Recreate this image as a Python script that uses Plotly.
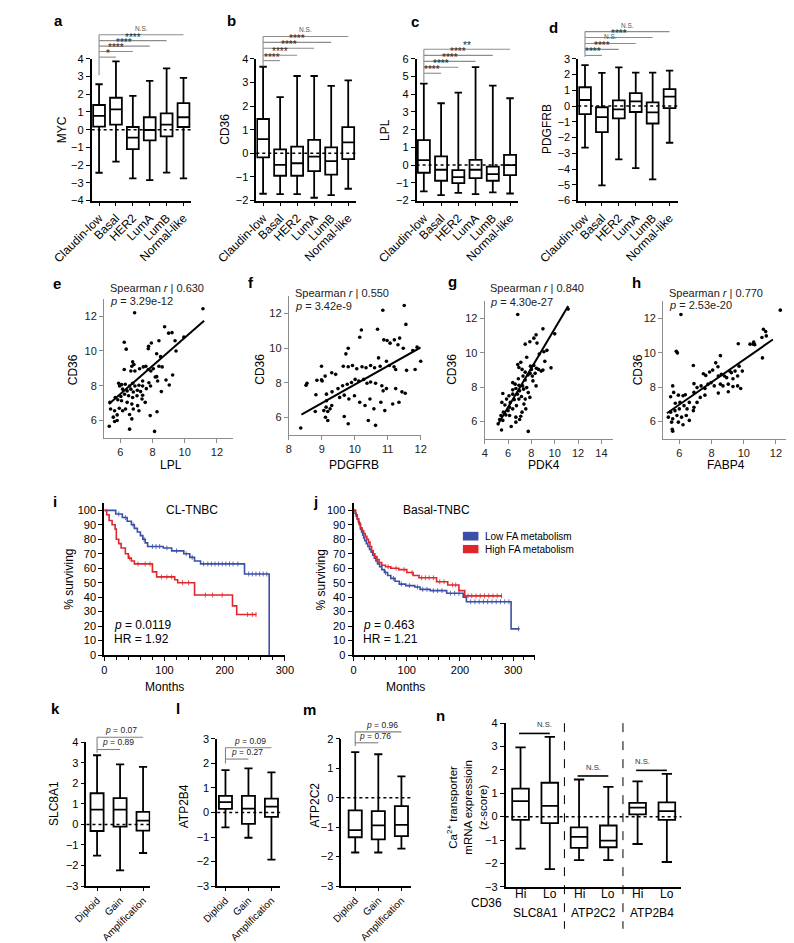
import numpy as np
import plotly.graph_objects as go

W, H = 794, 943
FONT = "Liberation Sans, Arial, Helvetica, sans-serif"

# ======================= DATA =======================
subtypes = ['Claudin-low', 'Basal', 'HER2', 'LumA', 'LumB', 'Normal-like']

# panel a: MYC
myc_hi = [2.56, 3.85, 1.9, 2.75, 3.45, 2.92]
myc_q3 = [1.39, 1.8, 0.15, 0.7, 0.92, 1.5]
myc_med = [0.78, 1.14, -0.45, -0.02, 0.28, 0.7]
myc_q1 = [0.17, 0.28, -1.1, -0.6, -0.38, 0.15]
myc_lo = [-2.43, -1.8, -2.75, -2.85, -2.42, -2.75]
myc_sig = ['*', '****', '****', '****', 'N.S.']

# panel b: CD36
cd36_hi = [3.66, 2.38, 3.27, 3.27, 2.85, 3.08]
cd36_q3 = [1.45, 0.17, 0.28, 0.57, 0.25, 1.11]
cd36_med = [0.6, -0.49, -0.42, -0.14, -0.33, 0.46]
cd36_q1 = [-0.17, -0.95, -0.95, -0.75, -0.9, -0.25]
cd36_lo = [-1.71, -1.73, -1.73, -1.88, -1.77, -1.5]
cd36_sig = ['****', '****', '****', '****', 'N.S.']

# panel c: LPL
lpl_hi = [4.6, 3.49, 4.09, 5.53, 4.48, 3.77]
lpl_q3 = [1.41, 0.49, -0.28, 0.3, -0.08, 0.58]
lpl_med = [0.28, -0.26, -0.68, -0.26, -0.51, 0.0]
lpl_q1 = [-0.43, -0.88, -1.01, -0.73, -0.88, -0.56]
lpl_lo = [-1.48, -1.69, -1.56, -1.63, -1.54, -1.6]
lpl_sig = ['****', '****', '****', '****', '**']

# panel d: PDGFRB
pdgfrb_hi = [2.6, 2.1, 2.45, 2.12, 2.12, 2.24]
pdgfrb_q3 = [1.19, -0.08, 0.36, 0.82, 0.23, 1.07]
pdgfrb_med = [0.38, -0.71, -0.21, 0.29, -0.4, 0.59]
pdgfrb_q1 = [-0.52, -1.66, -0.78, -0.38, -1.11, -0.13]
pdgfrb_lo = [-2.64, -5.03, -3.38, -3.94, -4.65, -2.33]
pdgfrb_sig = ['****', '****', 'N.S.', '****', 'N.S.']

# panel e: LPL vs CD36
e_x = [11.13, 6.89, 9.95, 8.75, 9.21, 9.0, 9.4, 8.4, 7.76, 7.74, 7.93, 6.25, 6.37, 9.46, 8.5, 8.26,
       6.77, 6.85, 6.72, 6.25, 6.66, 6.91, 7.2, 7.43, 7.59, 7.74, 7.9, 8.05, 8.4, 8.6, 8.17, 8.26,
       8.84, 9.04, 7.78, 7.39, 7.16, 6.91, 6.77, 6.58, 6.31, 6.08, 5.9, 5.96, 6.15, 6.43, 6.66, 6.81,
       7.06, 7.26, 7.39, 7.04, 6.77, 6.52, 6.27, 6.04, 5.85, 5.69, 6.08, 6.43, 6.72, 7.08, 6.81, 6.33,
       5.94, 5.65, 5.36, 5.4, 5.81, 5.57, 5.65, 5.81, 5.32, 6.58, 6.72, 6.58, 8.13, 8.28, 7.86, 8.55,
       7.39, 7.62, 7.88, 7.55, 7.35, 7.16, 6.15, 8.32, 9.25]
e_y = [12.42, 12.19, 10.79, 11.39, 11.05, 11.02, 10.58, 10.58, 10.26, 10.12, 10.45, 10.5, 10.1, 9.99, 9.67, 9.84,
       9.37, 9.22, 9.12, 8.93, 8.84, 8.84, 8.97, 9.08, 9.12, 8.93, 8.84, 8.97, 9.12, 9.08, 8.5, 8.52,
       8.33, 8.04, 8.17, 8.27, 8.02, 7.98, 8.14, 7.98, 8.08, 8.06, 8.14, 7.98, 7.8, 7.7, 7.8, 7.64,
       7.74, 7.66, 7.45, 7.42, 7.32, 7.42, 7.51, 7.38, 7.19, 7.32, 7.13, 7.04, 6.94, 6.85, 6.66, 6.66,
       6.7, 6.56, 7.04, 6.66, 6.32, 6.19, 5.94, 6.0, 5.67, 6.34, 6.09, 5.5, 5.37, 6.5, 6.28, 7.66,
       7.98, 7.83, 7.98, 7.04, 7.23, 6.56, 6.56, 8.27, 8.61]
e_fit = [0.81, 2.66]          # slope, intercept
e_fit_x = [5.3, 11.2]

# panel f: PDGFRB vs CD36
f_x = [11.5, 10.85, 11.55, 10.69, 10.2, 11.36, 11.2, 11.07, 11.31, 11.47, 11.76, 11.89, 12.0, 10.88, 10.98,
       10.15, 9.8, 9.73, 10.72, 10.96, 11.05, 11.19, 11.24, 11.57, 10.77, 10.6, 10.48, 10.34, 10.22, 10.06,
       9.93, 9.8, 9.65, 9.42, 9.3, 8.99, 9.1, 8.85, 8.99, 8.55, 8.82, 9.14, 9.31, 9.49, 9.63, 9.77, 9.9,
       10.01, 10.12, 10.27, 10.37, 10.48, 10.63, 10.82, 10.96, 10.86, 11.24, 11.43, 11.83, 9.54, 9.68,
       9.82, 9.99, 10.15, 10.31, 10.46, 10.58, 10.79, 10.91, 11.15, 11.34, 11.53, 9.14, 9.3, 9.13, 9.06,
       9.18, 9.25, 9.11, 9.18, 9.68, 9.8, 10.41, 10.63, 8.36, 8.52, 9.01, 8.8]
f_y = [12.46, 12.19, 11.37, 11.09, 11.05, 10.58, 10.48, 10.29, 10.2, 10.0, 9.87, 10.06, 9.25, 10.48, 10.44,
       10.63, 10.0, 9.67, 9.44, 9.25, 9.0, 8.93, 8.77, 8.72, 8.96, 8.87, 9.0, 8.87, 8.93, 8.81,
       9.0, 8.93, 8.96, 8.49, 8.58, 8.96, 8.39, 8.15, 8.17, 7.98, 7.31, 7.35, 7.48, 7.67, 7.83, 7.92, 8.02,
       8.2, 8.11, 8.2, 7.98, 8.05, 7.98, 7.83, 7.67, 7.54, 7.67, 7.48, 8.77, 7.16, 7.29,
       7.07, 7.26, 6.88, 6.69, 7.07, 6.5, 6.88, 6.4, 6.78, 6.88, 7.4, 6.97, 6.69, 6.6, 6.4,
       6.35, 6.5, 6.02, 5.83, 6.06, 5.64, 5.83, 5.55, 5.4, 7.86, 8.11, 6.35]
f_fit = [1.07, -2.80]
f_fit_x = [8.38, 12.0]

# panel g: PDK4 vs CD36
g_x = [11.15, 6.83, 10.0, 8.99, 8.4, 8.21, 7.87, 7.47, 8.48, 9.33, 9.07, 8.67, 7.6, 7.92, 8.21, 8.43,
       8.61, 8.83, 8.99, 9.68, 9.15, 7.09, 6.83, 6.93, 7.2, 7.47, 7.71, 7.89, 8.08, 8.32, 7.28, 7.47,
       6.88, 6.4, 6.61, 6.93, 7.25, 6.67, 6.4, 6.99, 7.33, 7.6, 7.73, 6.4, 6.08, 6.8, 7.15, 7.47, 7.87,
       6.93, 6.53, 6.19, 5.87, 5.55, 5.73, 6.13, 6.4, 6.72, 6.0, 5.6, 5.81, 6.13, 5.39, 5.28, 5.55,
       5.15, 5.44, 6.27, 6.67, 7.09, 6.99, 6.67, 7.73, 7.2, 7.36, 7.52, 5.47, 8.4, 8.13, 8.0]
g_y = [12.54, 12.23, 11.1, 11.39, 11.04, 10.85, 10.64, 10.5, 10.56, 10.14, 10.06, 9.93, 9.74, 9.22, 9.26, 9.1,
       9.03, 8.93, 8.99, 9.12, 9.5, 9.45, 9.31, 9.14, 9.03, 8.87, 8.7, 8.8, 8.64, 8.8, 8.64, 8.41,
       8.49, 8.26, 8.17, 8.11, 8.07, 7.92, 7.84, 7.78, 7.88, 7.97, 7.68, 7.59, 7.49, 7.59, 7.45, 7.3, 7.4,
       7.3, 7.27, 7.11, 7.3, 7.63, 6.96, 6.82, 6.73, 6.92, 6.63, 6.54, 6.38, 6.35, 6.35, 6.11, 6.06,
       5.86, 5.5, 5.71, 6.25, 6.3, 6.11, 5.96, 5.42, 6.54, 7.01, 6.73, 7.11, 8.07, 8.36, 9.03]
g_fit = [1.145, -0.05]
g_fit_x = [5.2, 11.15]

# panel h: FABP4 vs CD36
h_x = [12.27, 6.1, 5.81, 5.88, 10.39, 10.62, 10.68, 11.22, 11.36, 11.4, 11.13, 10.58, 11.16, 9.66, 8.55,
       8.26, 8.4, 8.07, 7.88, 7.64, 7.49, 6.87, 6.91, 7.1, 7.35, 7.59, 7.78, 7.97, 8.17, 8.42, 8.61,
       8.8, 8.94, 9.13, 9.23, 9.46, 9.71, 9.91, 9.62, 9.33, 9.04, 8.71, 8.55, 8.42, 9.04, 9.33, 9.62,
       9.81, 7.59, 7.3, 7.1, 6.91, 6.87, 6.62, 6.48, 6.37, 6.23, 5.94, 5.59, 5.65, 5.46, 5.75, 6.04,
       6.29, 6.0, 5.73, 5.46, 5.32, 5.59, 5.85, 6.14, 6.43, 6.62, 6.23, 5.94, 5.52, 5.56, 5.59, 6.91]
h_y = [12.48, 12.23, 10.08, 9.99, 10.5, 10.62, 10.47, 11.37, 11.23, 10.98, 10.89, 10.5, 9.7, 10.52, 9.83,
       9.41, 9.18, 8.99, 8.88, 8.68, 8.78, 9.26, 8.2, 7.97, 8.07, 7.92, 8.17, 8.26, 8.07, 8.65, 8.74,
       8.65, 8.55, 8.93, 8.84, 8.93, 9.22, 8.93, 8.65, 8.49, 8.17, 8.07, 8.17, 7.65, 7.73, 8.03, 8.07,
       7.92, 7.53, 7.4, 7.11, 6.82, 6.63, 7.11, 6.73, 7.55, 7.5, 7.53, 8.07, 7.69, 7.44, 7.06, 7.11,
       6.92, 6.73, 6.63, 6.54, 6.25, 6.15, 6.35, 6.25, 6.35, 6.06, 5.81, 5.96, 5.96, 5.54, 5.43, 7.69]
h_fit = [0.652, 3.07]
h_fit_x = [5.23, 11.81]

# panel i: CL-TNBC Kaplan-Meier (months, % surviving)
i_low_t = [0, 19, 30, 38, 45, 50, 55, 60, 64, 68, 72, 98, 112, 132, 142, 150, 160, 233, 274]
i_low_s = [100, 97.5, 95, 92.5, 90, 87.5, 85, 82.5, 80, 77.5, 75, 74, 72, 70, 67.5, 65, 63, 56, 0]
i_low_end = 274
i_low_cens = [24, 35, 48, 66, 80, 86, 92, 104, 120, 136, 146, 165, 172, 178, 184, 190, 196, 202, 208,
              214, 222, 240, 246, 252, 258, 264, 270]
i_high_t = [0, 4, 8, 13, 18, 20, 24, 28, 35, 40, 45, 50, 80, 87, 117, 122, 150, 213, 220]
i_high_s = [100, 97, 93, 90, 87, 80, 77, 74, 70, 67, 65, 63, 57.5, 54, 52, 50, 41.5, 34, 28]
i_high_end = 253
i_high_cens = [42, 56, 68, 76, 95, 104, 112, 130, 140, 168, 180, 196, 238, 246, 252]

# panel j: Basal-TNBC Kaplan-Meier
j_low_t = [0, 3, 5, 7, 9, 11, 13, 15, 17, 19, 21, 24, 27, 30, 33, 36, 39, 42, 45, 49, 53, 58, 64, 70,
           78, 86, 98, 115, 125, 144, 175, 206, 212, 296]
j_low_s = [100, 98, 96, 94, 92, 90, 87, 85, 83, 81, 79, 77, 75, 73, 71, 69, 67, 65, 63, 61, 59, 57, 55,
           53, 51, 49, 48, 47, 45.4, 44.5, 42.7, 40, 36.8, 18.1]
j_low_end = 312
j_low_cens = [60, 75, 90, 105, 120, 130, 138, 150, 158, 166, 182, 190, 198, 220, 228, 236, 244, 252,
              260, 268, 276, 284, 292, 310]
j_high_t = [0, 4, 7, 10, 13, 16, 19, 22, 25, 28, 31, 34, 37, 40, 44, 48, 53, 60, 70, 85, 100, 112, 123,
            156, 177, 198, 209]
j_high_s = [100, 97, 94, 91, 88, 86, 84, 82, 80, 78, 75, 72, 70, 68, 66, 64, 62, 61, 60, 59, 57, 55,
            53.4, 50.7, 48.4, 44.5, 40.9]
j_high_end = 279
j_high_cens = [65, 80, 95, 110, 128, 135, 142, 150, 162, 170, 186, 192, 215, 222, 230, 238, 246, 254,
               262, 270, 278]

# panels k-m: copy number groups
cn_groups = ['Diploid', 'Gain', 'Amplification']
slc8a1_hi = [3.37, 2.93, 2.8]
slc8a1_q3 = [1.52, 1.28, 0.61]
slc8a1_med = [0.72, 0.72, 0.19]
slc8a1_q1 = [-0.32, -0.11, -0.3]
slc8a1_lo = [-1.52, -2.24, -1.39]
slc8a1_p = ['<i>p</i> = 0.89', '<i>p</i> = 0.07']

atp2b4_hi = [1.73, 1.8, 1.64]
atp2b4_q3 = [0.68, 0.68, 0.57]
atp2b4_med = [0.42, 0.16, 0.24]
atp2b4_q1 = [0.15, -0.46, -0.18]
atp2b4_lo = [-0.61, -1.03, -1.92]
atp2b4_p = ['<i>p</i> = 0.27', '<i>p</i> = 0.09']

atp2c2_hi = [1.55, 1.48, 0.73]
atp2c2_q3 = [-0.43, -0.45, -0.28]
atp2c2_med = [-1.1, -0.94, -0.92]
atp2c2_q1 = [-1.34, -1.41, -1.3]
atp2c2_lo = [-1.86, -1.86, -1.73]
atp2c2_p = ['<i>p</i> = 0.76', '<i>p</i> = 0.96']

# panel n
n_levels = ['Hi', 'Lo', 'Hi', 'Lo', 'Hi', 'Lo']
n_genes = ['SLC8A1', 'ATP2C2', 'ATP2B4']
n_hi = [2.96, 3.41, 1.59, 1.27, 1.51, 1.83]
n_q3 = [1.2, 1.45, -0.46, -0.38, 0.59, 0.61]
n_med = [0.66, 0.46, -0.87, -1.03, 0.39, 0.24]
n_q1 = [-0.14, -0.28, -1.34, -1.31, 0.1, -0.14]
n_lo = [-1.37, -2.25, -1.86, -1.86, -1.17, -1.94]
n_sig = ['N.S.', 'N.S.', 'N.S.']

BLUE = '#3b4ea8'
RED = '#e0262b'

# ======================= HELPERS =======================
fig = go.Figure()
layout = {}
shapes = []
ann = []


def ref(n):
    return ('x' if n == 1 else f'x{n}'), ('y' if n == 1 else f'y{n}')


def dom(v, r):
    return (v - r[0]) / (r[1] - r[0])


def px(x):
    return x / W


def py(y):
    return 1 - y / H


def add_axes(n, L, R, T, B, xr, yr, xkw, ykw):
    xs, ys = ref(n)
    xk = 'xaxis' if n == 1 else f'xaxis{n}'
    yk = 'yaxis' if n == 1 else f'yaxis{n}'
    xa = dict(domain=[px(L), px(R)], range=xr, anchor=ys, showgrid=False, zeroline=False,
              showline=True, fixedrange=True)
    ya = dict(domain=[py(B), py(T)], range=yr, anchor=xs, showgrid=False, zeroline=False,
              showline=True, fixedrange=True)
    xa.update(xkw)
    ya.update(ykw)
    layout[xk] = xa
    layout[yk] = ya


def text(x, y, s, size=11, color='black', angle=0, xanchor='center', yanchor='middle', bold=False):
    ann.append(dict(x=px(x), y=py(y), xref='paper', yref='paper', text=(f'<b>{s}</b>' if bold else s),
                    showarrow=False, textangle=angle, xanchor=xanchor, yanchor=yanchor,
                    font=dict(size=size, color=color, family=FONT)))


BLACK_AX = dict(linecolor='black', linewidth=1.6, ticks='outside', ticklen=4, tickwidth=1.4,
                tickcolor='black', tickfont=dict(size=11, color='black', family=FONT))


def box_panel(n, L, R, T, B, xr, yr, yticks, cats, hi, q3, med, q1, lo, width, tickangle=-45,
              show_xlabels=True, xticks='outside', xfont=11, xticklen=4):
    xs, ys = ref(n)
    pos = list(range(len(cats)))
    xkw = dict(BLACK_AX)
    xkw.update(tickvals=pos, ticktext=cats if show_xlabels else [' '] * len(cats), tickangle=tickangle,
               ticks=xticks, ticklen=xticklen, tickfont=dict(size=xfont, color='black', family=FONT))
    ykw = dict(BLACK_AX)
    ykw.update(tickvals=yticks, ticktext=[('\u2212' + str(-v)) if v < 0 else str(v) for v in yticks])
    add_axes(n, L, R, T, B, xr, yr, xkw, ykw)
    fig.add_trace(go.Box(x=pos, q1=q1, median=med, q3=q3, lowerfence=lo, upperfence=hi,
                         xaxis=xs, yaxis=ys, width=width, whiskerwidth=0.62, fillcolor='white',
                         line=dict(color='black', width=1.8), boxpoints=False, orientation='v',
                         hoverinfo='skip', showlegend=False))
    shapes.append(dict(type='line', xref=f'{xs} domain', x0=0, x1=1, yref=ys, y0=0, y1=0,
                       line=dict(color='black', width=1.5, dash='dot'), layer='above'))


def brackets(n, xr, yr, start, ends, levels, labels, vbot, labx=None, lab_size=None,
             line_col='#8c8c8c', line_w=1.1):
    xs, ys = ref(n)
    xd, yd = f'{xs} domain', f'{ys} domain'
    top = max(levels)
    shapes.append(dict(type='line', xref=xd, yref=yd, x0=dom(start, xr), x1=dom(start, xr),
                       y0=dom(top, yr), y1=dom(vbot, yr), line=dict(color=line_col, width=line_w)))
    for i, (e, lv, lb) in enumerate(zip(ends, levels, labels)):
        shapes.append(dict(type='line', xref=xd, yref=yd, x0=dom(start, xr), x1=dom(e, xr),
                           y0=dom(lv, yr), y1=dom(lv, yr), line=dict(color=line_col, width=line_w)))
        cx = (start + e) / 2 if labx is None else labx[i]
        if lb.startswith('*'):
            fs, ysh, col = 10, -4, '#222222'
        elif lb.startswith('N'):
            fs, ysh, col = 6.5, 1, '#555555'
        else:
            fs, ysh, col = 8.5, 0, '#222222'
        if lab_size:
            fs = lab_size
        ann.append(dict(xref=xd, yref=yd, x=dom(cx, xr), y=dom(lv, yr), text=lb, showarrow=False,
                        xanchor='center', yanchor='bottom', yshift=ysh,
                        font=dict(size=fs, color=col, family=FONT)))


GREY_AX = dict(linecolor='#8c8c8c', linewidth=1.2, ticks='outside', ticklen=4, tickwidth=1.2,
               tickcolor='#8c8c8c', tickfont=dict(size=11, color='#222222', family=FONT))


def scatter_panel(n, L, R, T, B, xr, yr, xticks, xv, yv, fit, fit_x, r_txt, p_txt, ty1, ty2):
    xs, ys = ref(n)
    xkw = dict(GREY_AX)
    xkw.update(tickvals=xticks)
    ykw = dict(GREY_AX)
    ykw.update(tickvals=[6, 8, 10, 12])
    add_axes(n, L, R, T, B, xr, yr, xkw, ykw)
    fig.add_trace(go.Scatter(x=xv, y=yv, mode='markers', xaxis=xs, yaxis=ys,
                             marker=dict(color='black', size=3.6), cliponaxis=False,
                             hoverinfo='skip', showlegend=False))
    fx = np.array(fit_x)
    fig.add_trace(go.Scatter(x=fx, y=fit[0] * fx + fit[1], mode='lines', xaxis=xs, yaxis=ys,
                             line=dict(color='black', width=2), hoverinfo='skip', showlegend=False))
    text(L + 4, ty1, f'Spearman <i>r</i> | {r_txt}', size=11, color='#222222', xanchor='left')
    text(L + 4, ty2, f'<i>p</i> = {p_txt}', size=11, color='#222222', xanchor='left')


def km_value(ts, ss, t):
    v = ss[0]
    for tt, s in zip(ts, ss):
        if tt <= t:
            v = s
    return v


def km_panel(n, L, R, T, B, xr, curves, ptxt, hrtxt, title, title_x, title_y):
    xs, ys = ref(n)
    xkw = dict(BLACK_AX)
    xkw.update(linewidth=2, tickvals=[0, 100, 200, 300],
               minor=dict(dtick=20, ticklen=3, tickcolor='black', ticks='outside', tickwidth=1.2))
    ykw = dict(BLACK_AX)
    ykw.update(linewidth=2, tickvals=list(range(0, 101, 10)))
    add_axes(n, L, R, T, B, xr, [0, 105], xkw, ykw)
    for ts, ss, end, cens, col in curves:
        xx = list(ts) + [end]
        yy = list(ss) + [ss[-1]]
        fig.add_trace(go.Scatter(x=xx, y=yy, mode='lines', line=dict(color=col, width=1.6, shape='hv'),
                                 xaxis=xs, yaxis=ys, hoverinfo='skip', showlegend=False))
        fig.add_trace(go.Scatter(x=cens, y=[km_value(ts, ss, c) for c in cens], mode='markers',
                                 marker=dict(symbol='line-ns', size=3.5, line=dict(color=col, width=0.8)),
                                 xaxis=xs, yaxis=ys, hoverinfo='skip', showlegend=False))
    text(L + 8, 619, f'<i>p</i> = {ptxt}', size=12, xanchor='left')
    text(L + 8, 633, f'HR = {hrtxt}', size=12, xanchor='left')
    text(title_x, title_y, title, size=12)


# ======================= TOP ROW: a-d =======================
TOPT, TOPB = 45.3, 189
TOPF = 12
# a
xr_a = [-0.44, 5.47]
yr_a = [-4, 4]
box_panel(1, 45.5, 152, TOPT, TOPB, xr_a, yr_a, list(range(-4, 5)), subtypes,
          myc_hi, myc_q3, myc_med, myc_q1, myc_lo, 0.7, xfont=TOPF)
brackets(1, xr_a, yr_a, 0, [1, 2, 3, 4, 5], [4.09, 4.41, 4.71, 5.02, 5.35], myc_sig, 3.07)
# b
xr_b = [-0.4, 5.45]
yr_b = [-2, 4]
box_panel(2, 221.2, 327.5, TOPT, TOPB, xr_b, yr_b, list(range(-2, 5)), subtypes,
          cd36_hi, cd36_q3, cd36_med, cd36_q1, cd36_lo, 0.7, xfont=TOPF)
brackets(2, xr_b, yr_b, 0, [1, 2, 3, 4, 5], [3.92, 4.15, 4.44, 4.69, 4.94], cd36_sig, 3.68)
# c
xr_c = [-0.42, 5.45]
yr_c = [-2, 6]
box_panel(3, 392.3, 500.3, TOPT, TOPB, xr_c, yr_c, list(range(-2, 7)), subtypes,
          lpl_hi, lpl_q3, lpl_med, lpl_q1, lpl_lo, 0.7, xfont=TOPF)
brackets(3, xr_c, yr_c, 0, [1, 2, 3, 4, 5], [5.18, 5.52, 5.85, 6.19, 6.53], lpl_sig, 4.69)
# d
xr_d = [-0.4, 5.5]
yr_d = [-6, 3]
box_panel(4, 564.8, 671.3, TOPT, TOPB, xr_d, yr_d, list(range(-6, 4)), subtypes,
          pdgfrb_hi, pdgfrb_q3, pdgfrb_med, pdgfrb_q1, pdgfrb_lo, 0.7, xfont=TOPF)
brackets(4, xr_d, yr_d, 0, [1, 2, 3, 4, 5], [3.21, 3.59, 3.97, 4.35, 4.72], pdgfrb_sig, 3.12)

text(13.5, 117, 'MYC', size=12, angle=-90)
text(187, 117, 'CD36', size=12, angle=-90)
text(358, 117, 'LPL', size=12, angle=-90)
text(531, 117, 'PDGFRB', size=12, angle=-90)

# ======================= ROW 2: e-h =======================
scatter_panel(5, 58.8, 196.5, 288.4, 429.3, [5, 13], [5, 13], [6, 8, 10, 12], e_x, e_y, e_fit, e_fit_x,
              '0.630', '3.29e-12', 278, 291)
scatter_panel(6, 256, 396.7, 285.8, 426.3, [8, 12], [5, 13], [8, 9, 10, 11, 12], f_x, f_y, f_fit, f_fit_x,
              '0.550', '3.42e-9', 283, 296)
scatter_panel(7, 465, 602, 290.9, 430.1, [4, 15], [5, 13], [4, 6, 8, 10, 12, 14], g_x, g_y, g_fit, g_fit_x,
              '0.840', '4.30e-27', 278, 292)
scatter_panel(8, 655.5, 793, 290.9, 430.1, [5, 13], [5, 13], [6, 8, 10, 12], h_x, h_y, h_fit, h_fit_x,
              '0.770', '2.53e-20', 283, 295)
for xx, lab in [(26.5, 'CD36'), (225.5, 'CD36'), (430.5, 'CD36'), (628.5, 'CD36')]:
    text(xx, 360, lab, size=12, angle=-90)
for xx, lab in [(130, 'LPL'), (325, 'PDGFRB'), (528, 'PDK4'), (723, 'FABP4')]:
    text(xx, 457, lab, size=12)

# ======================= ROW 3: i-j =======================
km_panel(9, 59, 251.7, 495.4, 649.3, [0, 300],
         [(i_low_t, i_low_s, i_low_end, i_low_cens, BLUE),
          (i_high_t, i_high_s, i_high_end, i_high_cens, RED)],
         '0.0119', '1.92', 'CL-TNBC', 153, 502)
km_panel(10, 325, 519, 495.4, 649.3, [0, 341.5],
         [(j_low_t, j_low_s, j_low_end, j_low_cens, BLUE),
          (j_high_t, j_high_s, j_high_end, j_high_cens, RED)],
         '0.463', '1.21', 'Basal-TNBC', 414, 502)
text(21.5, 573, '% surviving', size=12, angle=-90)
text(290, 573, '% surviving', size=12, angle=-90)
text(123, 682, 'Months', size=12)
text(380, 682, 'Months', size=12)
# legend
for (y0, y1, col, lab) in [(524.5, 533.3, BLUE, 'Low FA metabolism'), (537.8, 546.2, RED, 'High FA metabolism')]:
    shapes.append(dict(type='rect', xref='paper', yref='paper', x0=px(441.7), x1=px(458.3),
                       y0=py(y1), y1=py(y0), fillcolor=col, line=dict(width=0)))
    text(463.5, (y0 + y1) / 2, lab, size=10, xanchor='left')

# ======================= ROW 4: k-n =======================
BOT_B = 883.3
BOTF = 10
xr_k = [-0.46, 2.31]
yr_k = [-3, 4]
box_panel(11, 40, 108, 737.7, BOT_B, xr_k, yr_k, list(range(-3, 5)), cn_groups,
          slc8a1_hi, slc8a1_q3, slc8a1_med, slc8a1_q1, slc8a1_lo, 0.57, xfont=BOTF, xticklen=3)
brackets(11, xr_k, yr_k, 0, [1, 2], [3.65, 4.25], slc8a1_p, 3.49, labx=[0.9, 1.05],
         line_col='#808080')
xr_l = [-0.36, 2.38]
yr_l = [-3, 3]
box_panel(12, 179.5, 246.7, 734.3, BOT_B, xr_l, yr_l, list(range(-3, 4)), cn_groups,
          atp2b4_hi, atp2b4_q3, atp2b4_med, atp2b4_q1, atp2b4_lo, 0.57, xfont=BOTF, xticklen=3)
brackets(12, xr_l, yr_l, 0, [1, 2], [2.18, 2.64], atp2b4_p, 2.0, labx=[0.95, 1.08],
         line_col='#808080')
xr_m = [-0.6, 2.43]
yr_m = [-3, 2]
box_panel(13, 312, 386.7, 734.3, BOT_B, xr_m, yr_m, list(range(-3, 3)), cn_groups,
          atp2c2_hi, atp2c2_q3, atp2c2_med, atp2c2_q1, atp2c2_lo, 0.57, xfont=BOTF, xticklen=3)
brackets(13, xr_m, yr_m, 0, [1, 2], [1.87, 2.24], atp2c2_p, 1.76, labx=[0.87, 1.14],
         line_col='#808080')
text(5.5, 800, 'SLC8A1', size=12, angle=-90)
text(143.5, 802, 'ATP2B4', size=12, angle=-90)
text(283.5, 801, 'ATP2C2', size=12, angle=-90)

# n
xr_n = [-0.51, 5.5]
yr_n = [-3, 4]
box_panel(14, 487.3, 675, 718.3, 884, xr_n, yr_n, list(range(-3, 5)), n_levels,
          n_hi, n_q3, n_med, n_q1, n_lo, 0.57, tickangle=0, show_xlabels=False, xticks='')
xs14, ys14 = ref(14)
for k, lab in enumerate(n_sig):
    a0, a1 = 2 * k, 2 * k + 1
    lv = max(n_hi[a0], n_hi[a1]) + 0.15
    shapes.append(dict(type='line', xref=f'{xs14} domain', yref=f'{ys14} domain',
                       x0=dom(a0 - 0.05, xr_n), x1=dom(a1, xr_n), y0=dom(lv, yr_n), y1=dom(lv, yr_n),
                       line=dict(color='black', width=1.6)))
    ann.append(dict(xref=f'{xs14} domain', yref=f'{ys14} domain', x=dom((a0 + a1) / 2, xr_n),
                    y=dom(lv, yr_n), text=lab, showarrow=False, yanchor='bottom', yshift=2,
                    font=dict(size=7.7, color='#333333', family=FONT)))
for d in [1.5, 3.5]:
    shapes.append(dict(type='line', xref=f'{xs14} domain', yref=f'{ys14} domain',
                       x0=dom(d, xr_n), x1=dom(d, xr_n), y0=dom(4, yr_n), y1=dom(-4.8, yr_n),
                       line=dict(color='black', width=1, dash='dash')))
for i, lab in enumerate(n_levels):
    ann.append(dict(xref=xs14, yref='paper', x=i, y=py(900), text=lab, showarrow=False,
                    font=dict(size=12, color='black', family=FONT)))
for k, g in enumerate(n_genes):
    ann.append(dict(xref=xs14, yref='paper', x=2 * k + 0.5, y=py(919.5), text=g, showarrow=False,
                    font=dict(size=12, color='black', family=FONT)))
text(466.5, 900, 'CD36', size=12)
text(446, 803, 'Ca<sup>2+</sup> transporter<br>mRNA expressioin<br>(z-score)', size=11.5, angle=-90)

# ======================= PANEL LETTERS =======================
for (lx, ly, lt) in [(10.5, 7, 'a'), (195, 7, 'b'), (391, 8, 'c'), (538, 14, 'd'),
                     (8.5, 273, 'e'), (216, 272, 'f'), (431, 271, 'g'), (626.5, 272, 'h'),
                     (6, 494, 'i'), (284, 494, 'j'),
                     (6.7, 703, 'k'), (137.5, 703, 'l'), (277.5, 704, 'm'), (417.5, 711, 'n')]:
    text(lx, ly, lt, size=15, bold=True)

fig.update_layout(width=W, height=H, margin=dict(l=0, r=0, t=0, b=0), autosize=False,
                  paper_bgcolor='white', plot_bgcolor='rgba(0,0,0,0)', showlegend=False,
                  font=dict(family=FONT, color='black'), shapes=shapes, annotations=ann, **layout)
fig.write_html('out.html')
